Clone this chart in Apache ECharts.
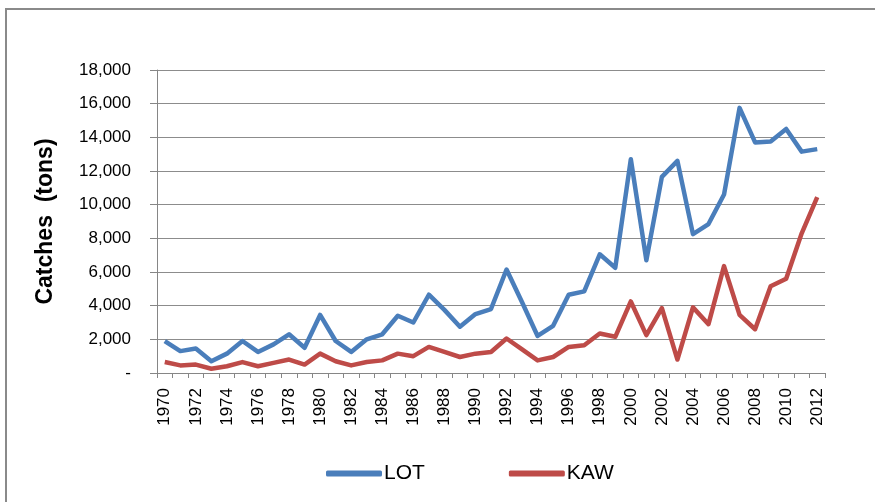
<!DOCTYPE html>
<html><head><meta charset="utf-8">
<script src="https://cdn.jsdelivr.net/npm/echarts@6/dist/echarts.min.js"></script>
<style>html,body{margin:0;padding:0;background:#fff}#c{width:875px;height:502px}</style>
</head><body><div id="c"></div>
<script>
var years = [];
for (var y = 1970; y <= 2012; y++) years.push(String(y));
var lot = [1900,1300,1450,700,1150,1900,1250,1700,2300,1500,3450,1900,1250,2000,2300,3400,3000,4650,3750,2750,3500,3800,6150,4200,2200,2800,4650,4850,7050,6250,12700,6700,11650,12600,8250,8850,10600,15750,13700,13750,14500,13150,13300];
var kaw = [650,450,500,250,400,650,400,600,800,500,1150,700,450,650,750,1150,1000,1550,1250,950,1150,1250,2050,1400,750,950,1550,1650,2350,2150,4250,2250,3850,800,3900,2900,6350,3450,2600,5150,5600,8300,10450];
var yTicks = [0,2000,4000,6000,8000,10000,12000,14000,16000,18000];

var chart = echarts.init(document.getElementById('c'), null, {renderer:'canvas'});
var font = '"Liberation Sans", Arial, sans-serif';
chart.setOption({
  animation:false,
  backgroundColor:'#fff',
  graphic:[{type:'rect', shape:{x:6,y:9,width:900,height:520}, style:{fill:'none', stroke:'#8a8a8a', lineWidth:2}, silent:true}],
  grid:{left:157, right:50, top:70, bottom:129},
  legend:{bottom:13, left:321, itemWidth:56, itemHeight:6, itemGap:84, icon:'roundRect',
    textStyle:{fontFamily:font, fontSize:21, color:'#000', padding:[0,0,0,-3]},
    data:['LOT','KAW']},
  xAxis:{type:'category', data:years, boundaryGap:true,
    axisLine:{lineStyle:{color:'#868686', width:1}},
    axisTick:{show:true, interval:0, length:5, lineStyle:{color:'#868686'}},
    axisLabel:{interval:1, rotate:90, fontFamily:font, fontSize:17, color:'#000', margin:15}},
  yAxis:{type:'value', min:0, max:18000, interval:2000,
    name:'Catches  (tons)', nameLocation:'middle', nameGap:100, nameRotate:90,
    nameTextStyle:{fontFamily:font, fontSize:23, fontWeight:'bold', color:'#000'},
    axisLine:{show:true, lineStyle:{color:'#868686'}},
    axisTick:{show:true, length:7, lineStyle:{color:'#868686'}},
    splitLine:{lineStyle:{color:'#8c8c8c', width:1}},
    axisLabel:{fontFamily:font, fontSize:17, color:'#000', margin:26,
      formatter:function(v){ return v===0 ? '-' : v.toLocaleString('en-US'); }}},
  series:[
    {name:'LOT', type:'line', data:lot, symbol:'none', lineStyle:{color:'#4a7ebb', width:4.5, join:'round'}, itemStyle:{color:'#4a7ebb'}},
    {name:'KAW', type:'line', data:kaw, symbol:'none', lineStyle:{color:'#be4b48', width:4.5, join:'round'}, itemStyle:{color:'#be4b48'}}
  ]
});
</script></body></html>
